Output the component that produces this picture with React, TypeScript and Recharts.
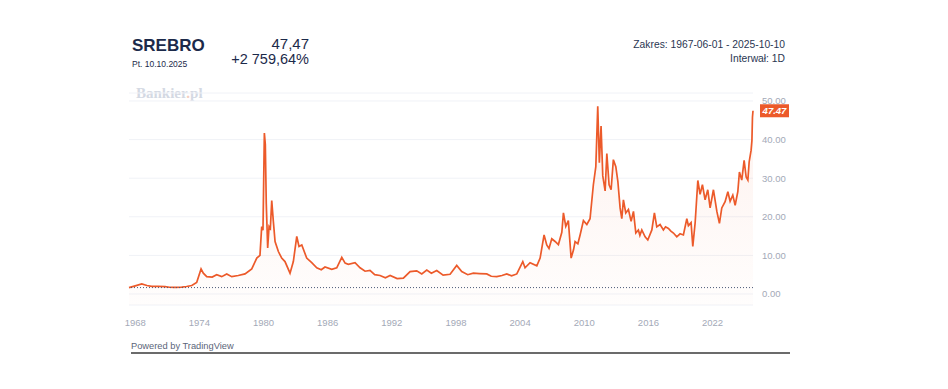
import React from 'react'
import { ComposedChart, Area, XAxis, YAxis, CartesianGrid, ReferenceLine } from 'recharts'

const FONT = '"Liberation Sans", Arial, sans-serif'

// kurs srebra (USD/oz), czas w latach dziesiętnych
const YEARS = [
  1967.42, 1968.0, 1968.61, 1969.1, 1969.54, 1970.16, 1970.8, 1971.2, 1971.72, 1972.35,
  1972.8, 1973.29, 1973.75, 1974.16, 1974.37, 1974.69, 1975.2, 1975.62, 1976.09, 1976.56,
  1977.03, 1977.64, 1978.27, 1978.9, 1979.37, 1979.67, 1979.83, 1979.95, 1980.08, 1980.17,
  1980.26, 1980.39, 1980.52, 1980.64, 1980.77, 1980.92, 1981.08, 1981.39, 1981.7, 1982.01,
  1982.48, 1982.79, 1983.11, 1983.32, 1983.58, 1984.04, 1984.51, 1984.98, 1985.4, 1985.75,
  1986.38, 1986.85, 1987.32, 1987.63, 1987.93, 1988.56, 1989.03, 1989.5, 1989.96, 1990.4,
  1990.9, 1991.4, 1991.84, 1992.5, 1993.08, 1993.71, 1994.33, 1994.8, 1995.27, 1995.7,
  1996.2, 1996.8, 1997.45, 1998.07, 1998.54, 1999.1, 1999.63, 2000.2, 2000.88, 2001.3,
  2001.82, 2002.3, 2002.75, 2003.2, 2003.69, 2004.25, 2004.46, 2004.93, 2005.56, 2005.87,
  2006.24, 2006.49, 2006.7, 2006.96, 2007.27, 2007.58, 2007.9, 2008.05, 2008.27, 2008.51,
  2008.77, 2009.0, 2009.14, 2009.4, 2009.61, 2009.92, 2010.24, 2010.54, 2010.85, 2011.08,
  2011.26, 2011.41, 2011.57, 2011.73, 2011.95, 2012.11, 2012.32, 2012.51, 2012.72, 2012.95,
  2013.14, 2013.35, 2013.51, 2013.66, 2013.88, 2014.13, 2014.38, 2014.6, 2014.82, 2015.06,
  2015.2, 2015.38, 2015.69, 2015.94, 2016.32, 2016.56, 2016.78, 2017.09, 2017.4, 2017.6,
  2017.87, 2018.1, 2018.34, 2018.65, 2018.96, 2019.27, 2019.59, 2019.74, 2019.99, 2020.15,
  2020.37, 2020.62, 2020.83, 2021.05, 2021.3, 2021.55, 2021.77, 2022.08, 2022.4, 2022.64,
  2022.86, 2023.17, 2023.43, 2023.64, 2023.89, 2024.11, 2024.36, 2024.51, 2024.73, 2024.95,
  2025.14, 2025.3, 2025.42, 2025.6, 2025.68, 2025.73, 2025.78,
]

const PRICES = [
  1.66, 2.1, 2.6, 2.2, 2.0, 2.0, 1.9, 1.75, 1.7, 1.8,
  1.95, 2.2, 3.0, 6.5, 5.4, 4.5, 4.4, 5.0, 4.5, 5.2,
  4.5, 4.8, 5.2, 6.5, 9.3, 10.0, 17.5, 16.5, 41.7, 38.7,
  23.3, 11.9, 17.5, 17.0, 24.2, 18.8, 13.6, 11.0, 9.3, 8.4,
  5.4, 8.4, 14.9, 12.3, 12.7, 9.3, 8.1, 6.8, 6.3, 7.0,
  6.4, 6.8, 9.5, 8.0, 7.7, 8.1, 6.8, 5.9, 6.1, 5.0,
  4.8, 4.2, 4.8, 4.0, 4.1, 5.8, 6.0, 5.2, 6.2, 5.4,
  6.1, 4.9, 5.1, 7.4, 5.8, 5.0, 5.4, 5.3, 5.2, 4.6,
  4.5, 4.8, 5.2, 4.7, 5.2, 8.4, 6.8, 8.1, 7.3, 9.3,
  15.3, 12.7, 11.8, 14.3, 13.6, 12.8, 16.0, 21.0, 17.5, 19.0,
  9.3, 11.5, 13.6, 13.0, 15.3, 19.0, 18.0, 19.5, 28.3, 33.0,
  48.6, 34.0, 43.5, 30.6, 26.7, 36.4, 28.3, 27.0, 34.8, 33.0,
  29.2, 22.3, 19.5, 24.4, 21.0, 21.9, 18.8, 21.4, 15.8, 16.6,
  15.2, 16.6, 14.8, 14.0, 16.6, 21.0, 17.4, 18.0, 16.6, 17.4,
  17.0, 16.3, 15.8, 14.8, 15.6, 15.3, 19.5, 17.7, 18.5, 12.3,
  18.5, 29.4, 25.8, 28.3, 24.4, 27.0, 22.3, 27.0, 21.4, 18.3,
  22.3, 23.9, 26.5, 24.0, 25.6, 23.0, 26.5, 31.6, 29.5, 34.6,
  30.3, 29.5, 34.2, 37.2, 39.8, 45.8, 47.47,
]

const X_TICKS = [1968, 1974, 1980, 1986, 1992, 1998, 2004, 2010, 2016, 2022]
const Y_TICKS = [0, 10, 20, 30, 40, 50]
const START_PRICE = 1.66
const LAST_PRICE = 47.47

const data = YEARS.map((t, i) => ({ t, v: PRICES[i] }))

function PriceTag(props: any) {
  const vb = props.viewBox || {}
  const x = vb.x + vb.width + 7
  const y = vb.y
  return (
    <g>
      <rect x={x} y={y - 6.5} width={29} height={13} fill="#ec5a2a" />
      <text
        x={x + 14.5}
        y={y + 3.3}
        textAnchor="middle"
        fill="#fff"
        fontSize={9.5}
        fontStyle="italic"
        fontWeight="bold"
        fontFamily={FONT}
      >
        {LAST_PRICE.toFixed(2)}
      </text>
    </g>
  )
}

export default function App() {
  return (
    <div style={{ position: 'absolute', left: 0, top: 0, width: 948, height: 389, background: '#fff', fontFamily: FONT }}>
      {/* nagłówek */}
      <div style={{ position: 'absolute', left: 132, top: 36, fontSize: 17, fontWeight: 'bold', color: '#1c2a4a' }}>SREBRO</div>
      <div style={{ position: 'absolute', left: 132, top: 59, fontSize: 8.5, color: '#1c2a4a' }}>Pt. 10.10.2025</div>
      <div style={{ position: 'absolute', right: 948 - 309, top: 35, fontSize: 15, color: '#1c2a4a', textAlign: 'right' }}>47,47</div>
      <div style={{ position: 'absolute', right: 948 - 309, top: 51, fontSize: 14.5, color: '#1c2a4a', textAlign: 'right', whiteSpace: 'nowrap' }}>
        +2 759,64%
      </div>
      <div style={{ position: 'absolute', right: 948 - 785, top: 39, fontSize: 10.3, color: '#2a3652', textAlign: 'right', whiteSpace: 'nowrap' }}>
        Zakres: 1967-06-01 - 2025-10-10
      </div>
      <div style={{ position: 'absolute', right: 948 - 785, top: 53, fontSize: 10.3, color: '#2a3652', textAlign: 'right' }}>Interwał: 1D</div>

      <div
        style={{
          position: 'absolute',
          left: 136,
          top: 85,
          fontSize: 15,
          fontWeight: 'bold',
          fontFamily: '"Liberation Serif", serif',
          color: '#d4d9e3',
        }}
      >
        Bankier<span style={{ color: '#f3cfc0' }}>.</span>pl
      </div>

      <div style={{ position: 'absolute', left: 0, top: 0 }}>
        <ComposedChart width={948} height={389} data={data} margin={{ top: 93, right: 155, bottom: 54, left: 129 }}>
          <defs>
            <linearGradient id="fillSrebro" x1="0" y1="0" x2="0" y2="1">
              <stop offset="0%" stopColor="#ef5a2a" stopOpacity={0.13} />
              <stop offset="100%" stopColor="#ef5a2a" stopOpacity={0.02} />
            </linearGradient>
          </defs>
          <CartesianGrid vertical={false} stroke="#f0f2f7" />
          <XAxis
            dataKey="t"
            type="number"
            domain={[1967.42, 2025.78]}
            ticks={X_TICKS}
            axisLine={false}
            tickLine={false}
            tickMargin={8}
            height={30}
            tick={{ fontSize: 9.5, fill: '#a3a9b7', fontFamily: FONT }}
          />
          <YAxis
            orientation="right"
            type="number"
            domain={[-2.85, 52.07]}
            ticks={Y_TICKS}
            allowDataOverflow
            axisLine={false}
            tickLine={false}
            tickMargin={3}
            width={40}
            tickFormatter={(v) => Number(v).toFixed(2)}
            tick={{ fontSize: 9.5, fill: '#a3a9b7', fontFamily: FONT, textAnchor: 'start' }}
          />
          <ReferenceLine y={START_PRICE} stroke="#4d5a78" strokeDasharray="1 2" />
          <Area
            type="linear"
            dataKey="v"
            stroke="#ec5a2a"
            strokeWidth={1.7}
            fill="url(#fillSrebro)"
            baseValue="dataMin"
            dot={false}
            activeDot={false}
            isAnimationActive={false}
          />
          <ReferenceLine y={LAST_PRICE} stroke="none" label={<PriceTag />} />
        </ComposedChart>
      </div>

      <div style={{ position: 'absolute', left: 131, top: 341, fontSize: 9.3, color: '#5b6579' }}>Powered by TradingView</div>
      <div style={{ position: 'absolute', left: 131, top: 352, width: 659, height: 2, background: '#6b6b6b' }} />
    </div>
  )
}
